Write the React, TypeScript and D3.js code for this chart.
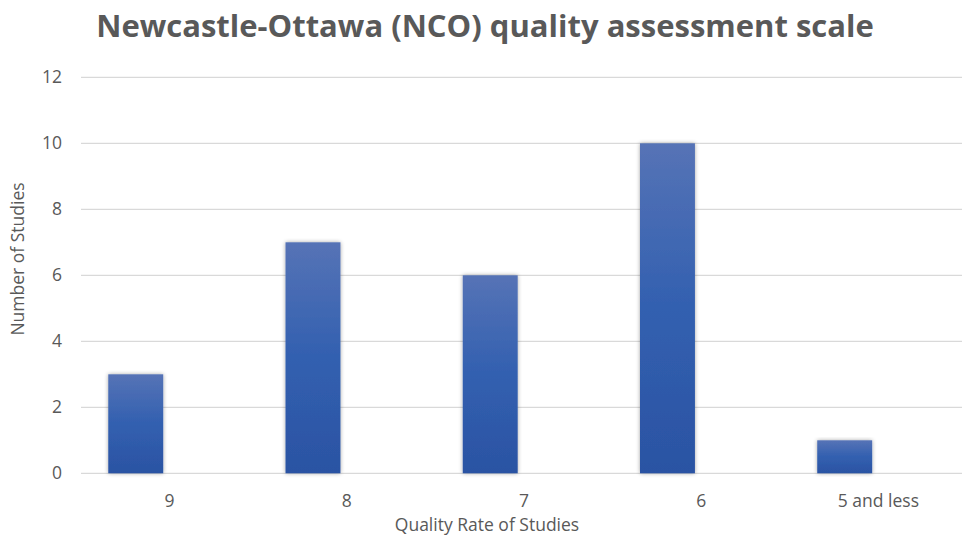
import React from "react";
import * as d3 from "d3";

// Study counts per Newcastle-Ottawa quality score
const categories = ["9", "8", "7", "6", "5 and less"];
const studyCounts = [3, 7, 6, 10, 1];
const yTicks = [0, 2, 4, 6, 8, 10, 12];

const chartTitle = "Newcastle-Ottawa (NCO) quality assessment scale";
const xAxisTitle = "Quality Rate of Studies";
const yAxisTitle = "Number of Studies";

const WIDTH = 962;
const HEIGHT = 536;
const FONT = "'Open Sans', 'Noto Sans', sans-serif";
const TEXT_COLOR = "#595959";
const GRID_COLOR = "#d9d9d9";
const LABEL_SIZE = 17.5;

export default function App() {
  const x = d3
    .scaleBand<string>()
    .domain(categories)
    .range([80.8, 967])
    .padding(0);
  const y = d3.scaleLinear().domain([0, 12]).range([473.3, 77.3]);
  const bw = x.bandwidth();
  const barOffset = bw * 0.155;
  const barWidth = bw * 0.31;

  return (
    <div style={{ position: "absolute", left: 0, top: 0, width: WIDTH, height: HEIGHT }}>
      <svg width={WIDTH} height={HEIGHT} style={{ display: "block", background: "#fff" }}>
        <defs>
          <linearGradient id="barFill" x1="0" y1="0" x2="0" y2="1">
            <stop offset="0%" stopColor="#5673b6" />
            <stop offset="50%" stopColor="#3260b0" />
            <stop offset="100%" stopColor="#2b53a3" />
          </linearGradient>
          <filter id="barShadow" x="-30%" y="-10%" width="160%" height="120%">
            <feGaussianBlur in="SourceAlpha" stdDeviation="2" />
            <feComponentTransfer>
              <feFuncA type="linear" slope="0.35" />
            </feComponentTransfer>
            <feMerge>
              <feMergeNode />
              <feMergeNode in="SourceGraphic" />
            </feMerge>
          </filter>
        </defs>

        <text
          x={485}
          y={37}
          textAnchor="middle"
          fontFamily={FONT}
          fontWeight={700}
          fontSize={31}
          fill={TEXT_COLOR}
        >
          {chartTitle}
        </text>

        {/* horizontal gridlines */}
        {yTicks.map((t) => (
          <line
            key={`g${t}`}
            x1={81}
            x2={WIDTH}
            y1={y(t)}
            y2={y(t)}
            stroke={GRID_COLOR}
            strokeWidth={1.3}
          />
        ))}

        {/* y tick labels */}
        {yTicks.map((t) => (
          <text
            key={`t${t}`}
            x={62}
            y={y(t)}
            dy="0.35em"
            textAnchor="end"
            fontFamily={FONT}
            fontSize={LABEL_SIZE}
            fill={TEXT_COLOR}
          >
            {t}
          </text>
        ))}

        {/* bars */}
        {categories.map((c, i) => (
          <rect
            key={c}
            x={(x(c) as number) + barOffset}
            y={y(studyCounts[i])}
            width={barWidth}
            height={y(0) - y(studyCounts[i])}
            fill="url(#barFill)"
            filter="url(#barShadow)"
          />
        ))}

        {/* category labels */}
        {categories.map((c) => (
          <text
            key={`l${c}`}
            x={(x(c) as number) + bw / 2}
            y={507}
            textAnchor="middle"
            fontFamily={FONT}
            fontSize={LABEL_SIZE}
            fill={TEXT_COLOR}
          >
            {c}
          </text>
        ))}

        <text
          x={487}
          y={531}
          textAnchor="middle"
          fontFamily={FONT}
          fontSize={LABEL_SIZE}
          fill={TEXT_COLOR}
        >
          {xAxisTitle}
        </text>

        <text
          transform={`translate(24, 259) rotate(-90)`}
          textAnchor="middle"
          fontFamily={FONT}
          fontSize={LABEL_SIZE}
          fill={TEXT_COLOR}
        >
          {yAxisTitle}
        </text>
      </svg>
    </div>
  );
}
